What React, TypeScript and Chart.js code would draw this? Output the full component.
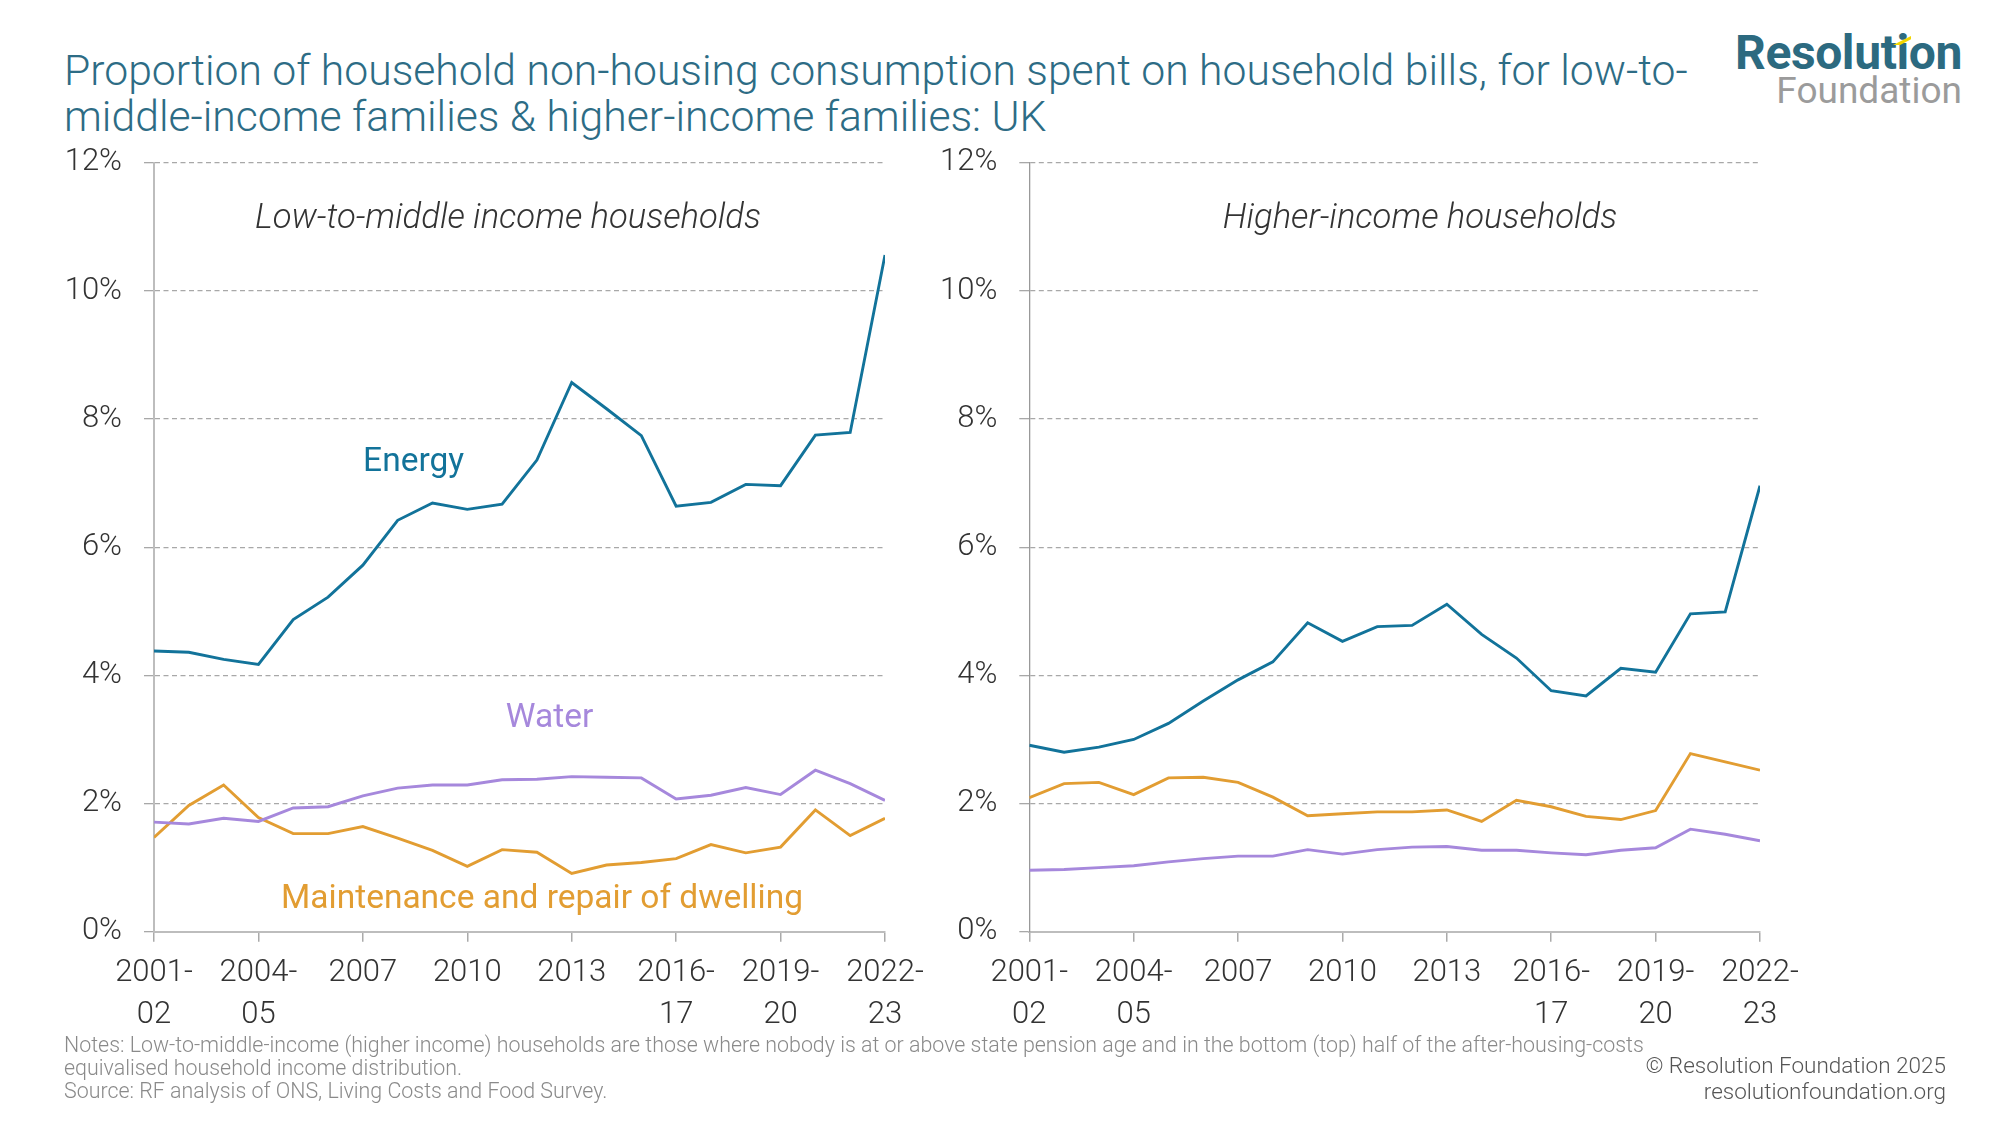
import React, { useEffect, useRef } from "react";
import { Chart, registerables } from "chart.js";

Chart.register(...registerables);

// ---------- DATA ----------
const years = [2001, 2002, 2003, 2004, 2005, 2006, 2007, 2008, 2009, 2010, 2011, 2012, 2013, 2014, 2015, 2016, 2017, 2018, 2019, 2020, 2021, 2022];
const tickYears = [2001, 2004, 2007, 2010, 2013, 2016, 2019, 2022];
const tickLabels = [["2001-", "02"], ["2004-", "05"], ["2007"], ["2010"], ["2013"], ["2016-", "17"], ["2019-", "20"], ["2022-", "23"]];
const yTicks = [0, 2, 4, 6, 8, 10, 12];

const lowEnergy = [4.38, 4.36, 4.25, 4.17, 4.87, 5.22, 5.72, 6.42, 6.69, 6.59, 6.67, 7.36, 8.57, 8.16, 7.74, 6.64, 6.70, 6.98, 6.96, 7.75, 7.79, 10.56];
const lowWater = [1.71, 1.68, 1.77, 1.72, 1.93, 1.95, 2.12, 2.24, 2.29, 2.29, 2.37, 2.38, 2.42, 2.41, 2.40, 2.07, 2.13, 2.25, 2.14, 2.52, 2.31, 2.05];
const lowMaint = [1.47, 1.97, 2.29, 1.78, 1.53, 1.53, 1.64, 1.46, 1.27, 1.02, 1.28, 1.24, 0.91, 1.04, 1.08, 1.14, 1.36, 1.23, 1.32, 1.90, 1.50, 1.77];

const highEnergy = [2.91, 2.80, 2.88, 3.00, 3.25, 3.60, 3.93, 4.21, 4.82, 4.53, 4.76, 4.78, 5.11, 4.64, 4.27, 3.76, 3.68, 4.11, 4.05, 4.96, 4.99, 6.96];
const highWater = [0.96, 0.97, 1.00, 1.03, 1.09, 1.14, 1.18, 1.18, 1.28, 1.21, 1.28, 1.32, 1.33, 1.27, 1.27, 1.23, 1.20, 1.27, 1.31, 1.60, 1.52, 1.42];
const highMaint = [2.09, 2.31, 2.33, 2.14, 2.40, 2.41, 2.33, 2.10, 1.81, 1.84, 1.87, 1.87, 1.90, 1.72, 2.05, 1.95, 1.80, 1.75, 1.89, 2.78, 2.65, 2.52];

// ---------- STYLE ----------
const FONT = "Roboto";
const ENERGY = "#12739a";
const WATER = "#a688dc";
const MAINT = "#e29d32";
const TEXT = "#333333";
const TITLE = "#2d6c85";

const PLOT_TOP = 162.7;
const PLOT_BOTTOM = 931.7;

type Ann = { text: string; x: number; y: number; color: string; font: string };

type PanelProps = {
  left: number;
  top: number;
  width: number;
  height: number;
  axisLeft: number;
  plotRight: number;
  energy: number[];
  water: number[];
  maint: number[];
  annotations: Ann[];
  yBorderColor: string;
  yBorderWidth: number;
};

function Panel(p: PanelProps) {
  const ref = useRef<HTMLCanvasElement | null>(null);
  useEffect(() => {
    if (!ref.current) return;
    const mk = (vals: number[]) => years.map((x, i) => ({ x, y: vals[i] }));
    const annPlugin = {
      id: "ann",
      afterDraw(chart: any) {
        const ctx = chart.ctx;
        ctx.save();
        ctx.textAlign = "center";
        ctx.textBaseline = "alphabetic";
        for (const a of p.annotations) {
          ctx.font = a.font;
          ctx.fillStyle = a.color;
          ctx.fillText(a.text, a.x - p.left, a.y - p.top);
        }
        ctx.restore();
      },
    };
    const tickFont = { family: FONT, size: 31, weight: 300, lineHeight: 1.34 };
    const chart = new Chart(ref.current, {
      type: "line",
      data: {
        datasets: [
          { data: mk(p.water), borderColor: WATER, borderWidth: 2.9, pointRadius: 0, tension: 0, fill: false },
          { data: mk(p.maint), borderColor: MAINT, borderWidth: 2.9, pointRadius: 0, tension: 0, fill: false },
          { data: mk(p.energy), borderColor: ENERGY, borderWidth: 2.9, pointRadius: 0, tension: 0, fill: false },
        ],
      },
      options: {
        animation: false,
        responsive: false,
        maintainAspectRatio: false,
        layout: {
          padding: { left: 0, top: PLOT_TOP - p.top, right: p.left + p.width - p.plotRight, bottom: 0 },
        },
        plugins: { legend: { display: false }, tooltip: { enabled: false } },
        scales: {
          x: {
            type: "linear",
            min: years[0],
            max: years[years.length - 1],
            afterBuildTicks: (s: any) => {
              s.ticks = tickYears.map((v) => ({ value: v }));
            },
            afterFit: (s: any) => {
              s.height = p.top + p.height - PLOT_BOTTOM;
              s.paddingLeft = 0;
              s.paddingRight = 0;
            },
            grid: { display: true, drawOnChartArea: false, drawTicks: true, tickLength: 10, color: "#aaaaaa", lineWidth: 1.5 },
            border: { display: true, color: "#bdbdbd", width: 2 },
            ticks: {
              padding: 11,
              maxRotation: 0,
              minRotation: 0,
              autoSkip: false,
              font: tickFont,
              color: TEXT,
              callback: (v: any) => {
                const i = tickYears.indexOf(Number(v));
                return i >= 0 ? tickLabels[i] : "";
              },
            },
          },
          y: {
            type: "linear",
            min: 0,
            max: 12,
            afterBuildTicks: (s: any) => {
              s.ticks = yTicks.map((v) => ({ value: v }));
            },
            afterFit: (s: any) => {
              s.width = p.axisLeft - p.left;
              s.paddingTop = 0;
              s.paddingBottom = 0;
            },
            grid: { color: "#a8a8a8", lineWidth: 1.3, drawTicks: true, tickLength: 10, tickColor: "#a8a8a8" },
            border: { display: true, color: p.yBorderColor, width: p.yBorderWidth, dash: [5, 3.5] },
            ticks: {
              padding: 22,
              font: tickFont,
              color: TEXT,
              callback: (v: any) => v + "%",
            },
          },
        },
      },
      plugins: [annPlugin],
    } as any);
    return () => chart.destroy();
  }, []);
  return (
    <div style={{ position: "absolute", left: p.left, top: p.top, width: p.width, height: p.height }}>
      <canvas ref={ref} width={p.width} height={p.height} style={{ width: p.width, height: p.height, display: "block" }} />
    </div>
  );
}

export default function App() {
  useEffect(() => {
    document.body.style.margin = "0";
    document.body.style.background = "#ffffff";
  }, []);

  const italic = `italic 300 34.6px ${FONT}`;
  const label = `33.5px ${FONT}`;

  const leftAnn: Ann[] = [
    { text: "Low-to-middle income households", x: 508, y: 228, color: TEXT, font: italic },
    { text: "Energy", x: 413.6, y: 470.8, color: ENERGY, font: label },
    { text: "Water", x: 549.6, y: 726.6, color: WATER, font: label },
    { text: "Maintenance and repair of dwelling", x: 542, y: 907.5, color: MAINT, font: label },
  ];
  const rightAnn: Ann[] = [{ text: "Higher-income households", x: 1420, y: 228, color: TEXT, font: italic }];

  return (
    <div style={{ position: "relative", width: 2000, height: 1125, background: "#fff", overflow: "hidden", fontFamily: FONT }}>
      <div
        style={{
          position: "absolute",
          left: 64,
          top: 47,
          fontSize: 42.7,
          lineHeight: "46px",
          color: TITLE,
          whiteSpace: "nowrap",
          fontWeight: 300,
        }}
      >
        Proportion of household non-housing consumption spent on household bills, for low-to-
        <br />
        middle-income families &amp; higher-income families: UK
      </div>

      {/* logo */}
      <div style={{ position: "absolute", right: 38, top: 29, fontSize: 48, lineHeight: "47px", fontWeight: 700, color: "#2c6a80", whiteSpace: "nowrap", letterSpacing: -0.4 }}>
        Resolution
      </div>
      <div style={{ position: "absolute", right: 38, top: 71.5, fontSize: 37, lineHeight: "37px", fontWeight: 400, color: "#9b9b9b", whiteSpace: "nowrap" }}>
        Foundation
      </div>
      <div
        style={{
          position: "absolute",
          left: 1893,
          top: 36,
          width: 18,
          height: 9,
          background: "#f2d600",
          clipPath: "polygon(0 100%, 100% 0, 100% 35%, 40% 100%)",
        }}
      />

      <Panel
        left={0}
        top={130}
        width={960}
        height={960}
        axisLeft={154}
        plotRight={885}
        energy={lowEnergy}
        water={lowWater}
        maint={lowMaint}
        annotations={leftAnn}
        yBorderColor="#bdbdbd"
        yBorderWidth={2}
      />
      <Panel
        left={900}
        top={130}
        width={1000}
        height={960}
        axisLeft={1029.3}
        plotRight={1760}
        energy={highEnergy}
        water={highWater}
        maint={highMaint}
        annotations={rightAnn}
        yBorderColor="#999999"
        yBorderWidth={1.3}
      />

      {/* notes */}
      <div style={{ position: "absolute", left: 64, top: 1033, fontSize: 21.4, lineHeight: "23px", color: "#8a8a8a", whiteSpace: "nowrap", fontWeight: 300 }}>
        Notes: Low-to-middle-income (higher income) households are those where nobody is at or above state pension age and in the bottom (top) half of the after-housing-costs
        <br />
        equivalised household income distribution.
        <br />
        Source: RF analysis of ONS, Living Costs and Food Survey.
      </div>
      <div style={{ position: "absolute", right: 54, top: 1052, fontSize: 22.5, lineHeight: "26px", color: "#555555", whiteSpace: "nowrap", textAlign: "right", fontWeight: 300 }}>
        © Resolution Foundation 2025
        <br />
        resolutionfoundation.org
      </div>
    </div>
  );
}
